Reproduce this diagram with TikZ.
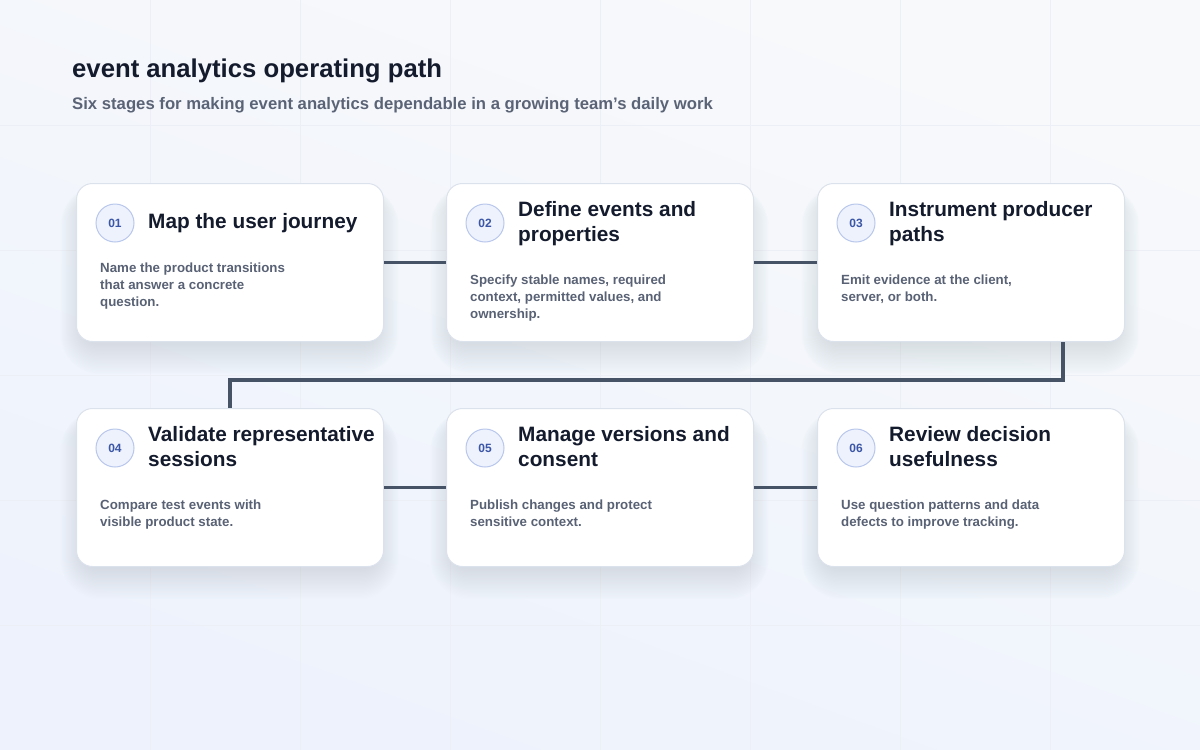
\documentclass[tikz,border=0pt]{standalone}
\usepackage{fontspec}
\setmainfont{Liberation Sans}
\definecolor{bgtop}{HTML}{F8F9FB}
\definecolor{bgbot}{HTML}{EDF2FC}
\definecolor{gridc}{HTML}{ECEFF5}
\definecolor{titlec}{HTML}{141B2D}
\definecolor{subc}{HTML}{5B6477}
\definecolor{descc}{HTML}{596275}
\definecolor{numc}{HTML}{3B56A6}
\definecolor{numfill}{HTML}{EEF2FD}
\definecolor{numdraw}{HTML}{B9C7EC}
\definecolor{cardborder}{HTML}{DCE2EC}
\definecolor{shadowc}{HTML}{98A3BF}
\definecolor{linkc}{HTML}{465366}
\tikzset{
  card/.style={draw=cardborder, line width=1pt, fill=white, rounded corners=16pt,
    minimum width=307pt, minimum height=158pt, inner sep=0pt},
  numcirc/.style={circle, draw=numdraw, line width=1pt, fill=numfill,
    minimum size=38pt, inner sep=0pt, text=numc, font=\bfseries\fontsize{12}{12}\selectfont},
  ttl/.style={inner sep=0pt, text=titlec, font=\bfseries\fontsize{20.8}{24}\selectfont},
  dsc/.style={inner sep=0pt, text=descc, font=\bfseries\fontsize{13.3}{17}\selectfont},
  link/.style={draw=linkc, line width=3.2pt},
}
\newcommand\stagebox[8]{% name, x, y, number, title y, title lines, desc y, desc lines
  \begin{scope}[shift={(#2,#3)}]
    \foreach \s in {1,...,24} {
      \fill[shadowc, opacity=0.012, rounded corners={16+\s}]
        ({6-\s*0.9},{12-\s*0.4}) rectangle ({301+\s*0.9},{160+\s*1.3});
    }
    \node[card, anchor=north west] (#1) at (0,0) {};
    \node[numcirc] (#1n) at (39,40) {#4};
    \foreach \ln [count=\k] in {#6} {
      \node[ttl, anchor=base west] (#1t\k) at (72,{#5+(\k-1)*24.5}) {\ln};
    }
    \foreach \ln [count=\k] in {#8} {
      \node[dsc, anchor=base west] (#1d\k) at (24,{#7+(\k-1)*16.8}) {\ln};
    }
  \end{scope}
}
\begin{document}
\begin{tikzpicture}[x=1pt,y=-1pt]
  \shade[top color=bgtop, bottom color=bgbot, shading angle=-20] (0,0) rectangle (1200,750);
  \useasboundingbox (0,0) rectangle (1200,750);
  \foreach \gx in {150,300,...,1050} { \draw[gridc, line width=0.8pt] (\gx,0) -- (\gx,750); }
  \foreach \gy in {125,250,...,625} { \draw[gridc, line width=0.8pt] (0,\gy) -- (1200,\gy); }

  \node[inner sep=0pt, anchor=base west, text=titlec, font=\bfseries\fontsize{25.7}{28}\selectfont]
    (title) at (72,77) {event analytics operating path};
  \node[inner sep=0pt, anchor=base west, text=subc, font=\bfseries\fontsize{16.7}{20}\selectfont]
    (subtitle) at (72,109.5) {Six stages for making event analytics dependable in a growing team’s daily work};

  \stagebox{c1}{76}{183}{01}{45.5}{{Map the user journey}}{89.5}{{Name the product transitions},{that answer a concrete},{question.}}
  \stagebox{c2}{446}{183}{02}{33.5}{{Define events and},{properties}}{101.7}{{Specify stable names, required},{context, permitted values, and},{ownership.}}
  \stagebox{c3}{817}{183}{03}{33.5}{{Instrument producer},{paths}}{101.7}{{Emit evidence at the client,},{server, or both.}}
  \stagebox{c4}{76}{408}{04}{33.5}{{Validate representative},{sessions}}{101.7}{{Compare test events with},{visible product state.}}
  \stagebox{c5}{446}{408}{05}{33.5}{{Manage versions and},{consent}}{101.7}{{Publish changes and protect},{sensitive context.}}
  \stagebox{c6}{817}{408}{06}{33.5}{{Review decision},{usefulness}}{101.7}{{Use question patterns and data},{defects to improve tracking.}}

  \draw[link] (c1.east) -- (c2.west);
  \draw[link] (c2.east) -- (c3.west);
  \draw[link] ([xshift=-62pt]c3.south east) -- ++(0,38) -| (c4.north);
  \draw[link] (c4.east) -- (c5.west);
  \draw[link] (c5.east) -- (c6.west);
\end{tikzpicture}
\end{document}
